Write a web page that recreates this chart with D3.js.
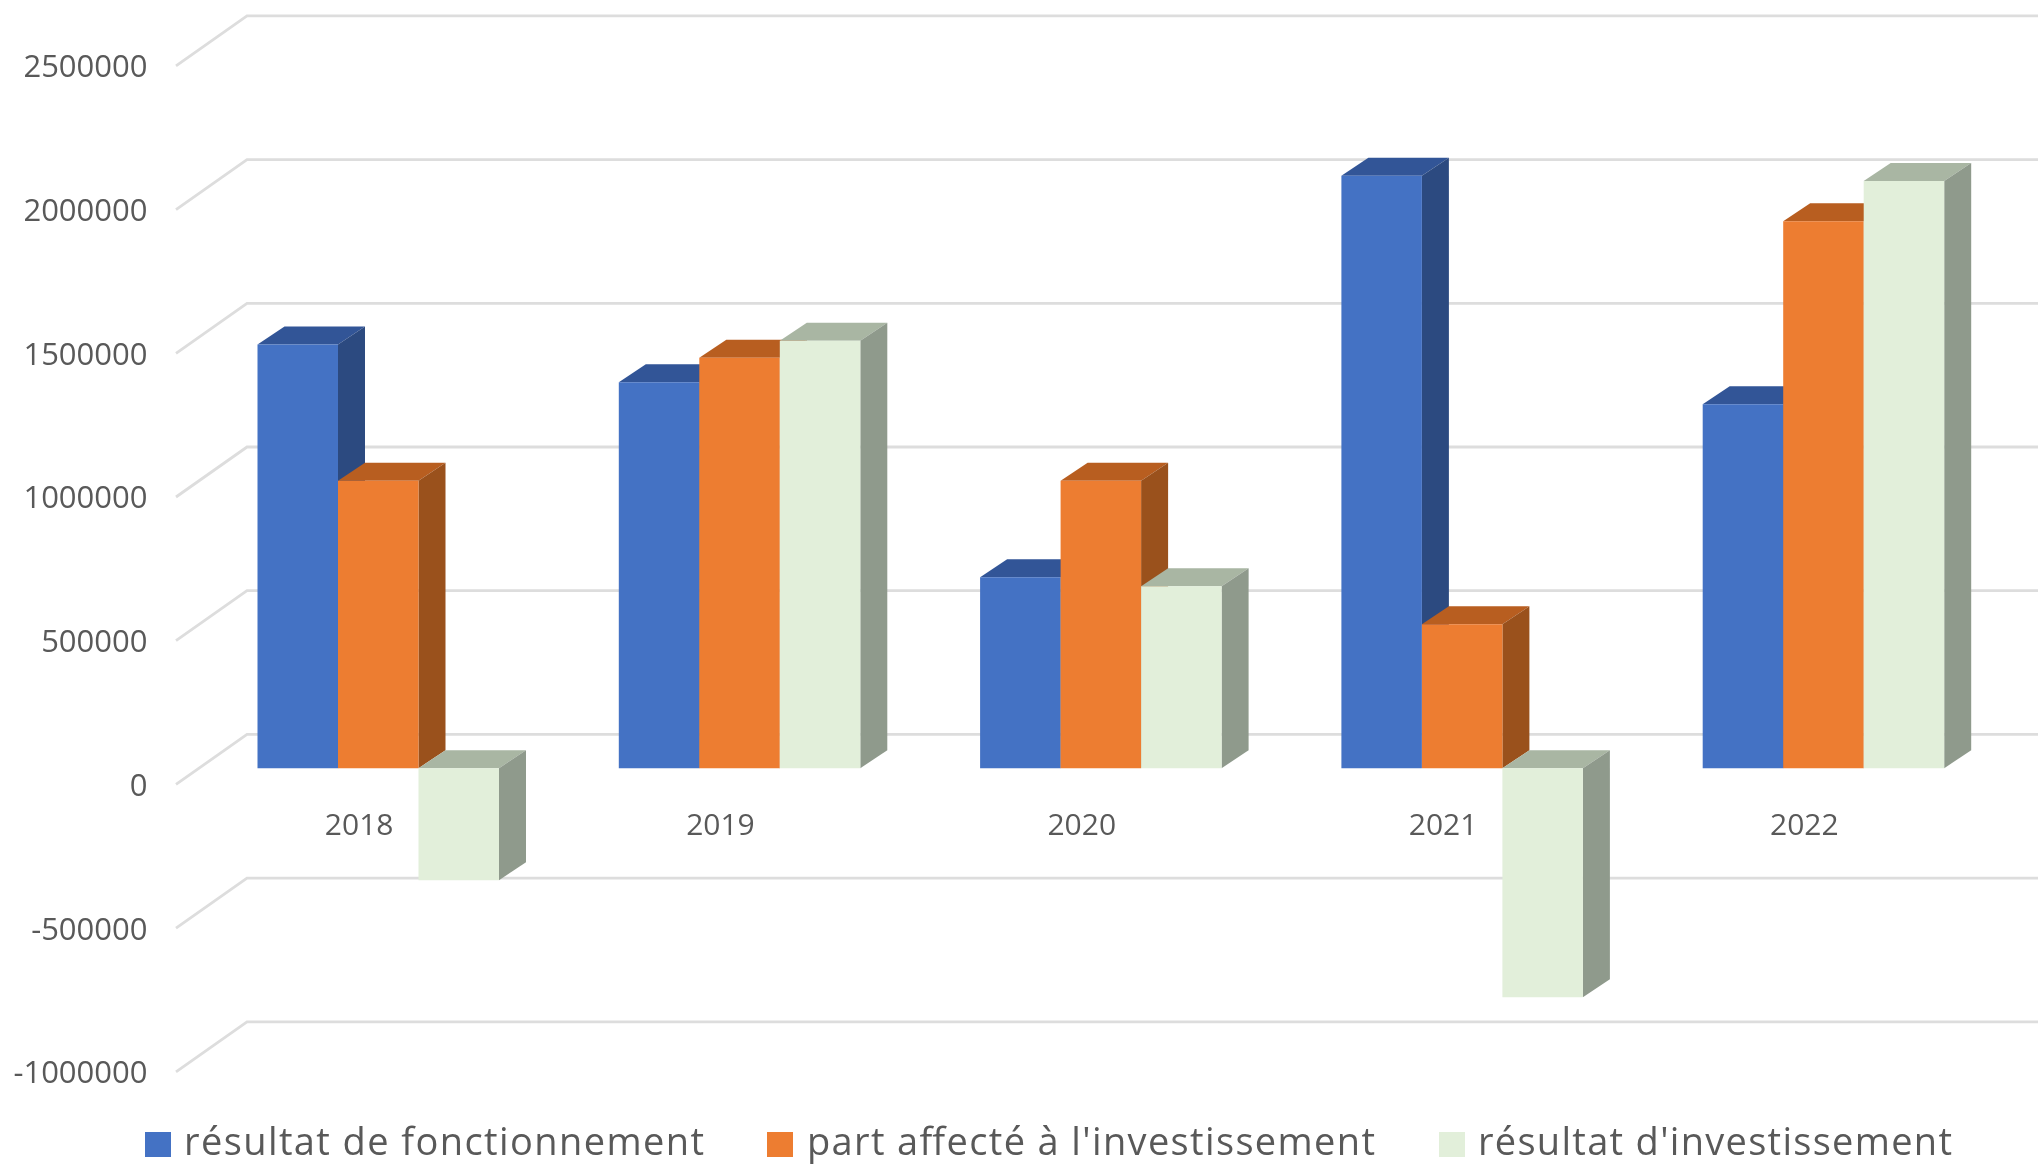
<!DOCTYPE html>
<html><head><meta charset="utf-8">
<script src="https://cdn.jsdelivr.net/npm/d3@7/dist/d3.min.js"></script>
<style>html,body{margin:0;padding:0;background:#fff}svg{display:block;filter:blur(.5px)}text{font-family:"Open Sans",sans-serif}</style>
</head><body><svg id="c" width="2038" height="1166"></svg>
<script>
const years = ["2018","2019","2020","2021","2022"];
const seriesNames = ["résultat de fonctionnement","part affecté à l'investissement","résultat d'investissement"];
const fonctionnement = [1474000,1343000,664000,2061000,1266000];
const affecte = [1000000,1428000,1000000,501000,1903000];
const investissement = [-390000,1487000,633000,-797000,2043000];
const yTicks = [-1000000,-500000,0,500000,1000000,1500000,2000000,2500000];
const seriesValues = [fonctionnement,affecte,investissement];
const faceColors = [["#4472C4","#2C4A80","#325597"],["#ED7D31","#9A511C","#B85E20"],["#E2EFDA","#8F9A8C","#A9B6A3"]];
const legendSwatchX = [145,767,1439], legendTextX = [184,807,1478], legendTextLen = [520,568,474];

const svg = d3.select("#c");
const y = d3.scaleLinear().domain([-1000000,2500000]).range([1021.8,15.9]);
const x = d3.scaleBand().domain(years).range([197.5,197.5+361.3*5]);
const xs = d3.scaleBand().domain(d3.range(3)).range([60,301.5]);
const wallX = 247, floorDx = -71, floorDy = 50, barDx = 27, barDy = -18, barPlaneDy = 33.8;

// gridlines
const grid = svg.append("g").attr("fill","none").attr("stroke","#DDDDDD").attr("stroke-width",2.8);
grid.selectAll("path").data(yTicks).join("path")
  .attr("d",v=>{const p=d3.path();p.moveTo(wallX+floorDx,y(v)+floorDy);p.lineTo(wallX,y(v));p.lineTo(2038,y(v));return p.toString();});

// axes text
const yAxis = d3.axisLeft(y).tickValues(yTicks).tickSize(0).tickPadding(0).tickFormat(d=>String(d));
svg.append("g").attr("transform",`translate(147.5,${floorDy+1})`).call(yAxis)
  .call(g=>g.select(".domain").remove())
  .call(g=>g.selectAll("text").attr("fill","#595959").style("font-size","31px").style("font-family",'"Open Sans",sans-serif'));
const xAxis = d3.axisBottom(x).tickSize(0).tickPadding(0);
svg.append("g").attr("transform","translate(-19,814)").call(xAxis)
  .call(g=>g.select(".domain").remove())
  .call(g=>g.selectAll("text").attr("fill","#595959").style("font-size","30px").style("font-family",'"Open Sans",sans-serif'));

// 3-D bars
const line = d3.line();
const bars = svg.append("g");
years.forEach((yr,i)=>{
  seriesValues.forEach((vals,s)=>{
    const v = vals[i];
    const x0 = x(yr)+xs(s), x1 = x0+xs.bandwidth();
    const yTop = y(Math.max(v,0))+barPlaneDy, yBot = y(Math.min(v,0))+barPlaneDy;
    const g = bars.append("g");
    const [cf,cs,ct] = faceColors[s];
    g.append("path").attr("fill",ct).attr("d",line([[x0,yTop],[x0+barDx,yTop+barDy],[x1+barDx,yTop+barDy],[x1,yTop]])+"Z");
    g.append("path").attr("fill",cs).attr("d",line([[x1,yTop],[x1+barDx,yTop+barDy],[x1+barDx,yBot+barDy],[x1,yBot]])+"Z");
    g.append("path").attr("fill",cf).attr("d",line([[x0,yTop],[x1,yTop],[x1,yBot],[x0,yBot]])+"Z");
  });
});

// legend
const leg = svg.append("g");
seriesNames.forEach((n,s)=>{
  leg.append("path").attr("fill",faceColors[s][0]).attr("d",line([[legendSwatchX[s],1132],[legendSwatchX[s]+26,1132],[legendSwatchX[s]+26,1157],[legendSwatchX[s],1157]])+"Z");
  leg.append("text").attr("x",legendTextX[s]).attr("y",1155).attr("fill","#595959").style("font-size","38px")
    .attr("textLength",legendTextLen[s]).attr("lengthAdjust","spacing").text(n);
});
</script></body></html>
